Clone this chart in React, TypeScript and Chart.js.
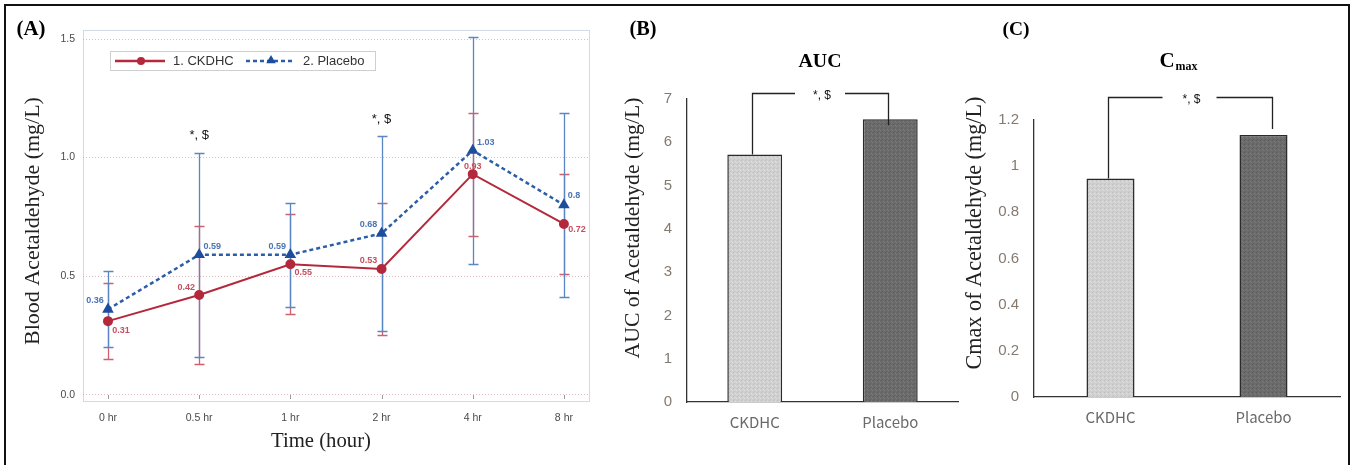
import React, { useEffect, useRef } from "react";
import { Chart, registerables } from "chart.js";

Chart.register(...registerables);

// ---------- DATA ----------
const timeLabels = ["0 hr", "0.5 hr", "1 hr", "2 hr", "4 hr", "8 hr"];
const ckdhcMean = [0.31, 0.42, 0.55, 0.53, 0.93, 0.72];
const ckdhcUpper = [0.47, 0.71, 0.76, 0.81, 1.19, 0.93];
const ckdhcLower = [0.15, 0.13, 0.34, 0.25, 0.67, 0.51];
const placeboMean = [0.36, 0.59, 0.59, 0.68, 1.03, 0.8];
const placeboUpper = [0.52, 1.02, 0.81, 1.09, 1.51, 1.19];
const placeboLower = [0.2, 0.16, 0.37, 0.27, 0.55, 0.41];
const ckdhcValueLabels = ["0.31", "0.42", "0.55", "0.53", "0.93", "0.72"];
const placeboValueLabels = ["0.36", "0.59", "0.59", "0.68", "1.03", "0.8"];
const significantTimeIndex = [1, 3];
const lineYTicks = [0, 0.5, 1.0, 1.5];

const groups = ["CKDHC", "Placebo"];
const aucValues = [5.72, 6.53];
const aucTicks = [0, 1, 2, 3, 4, 5, 6, 7];
const cmaxValues = [0.947, 1.135];
const cmaxTicks = [0, 0.2, 0.4, 0.6, 0.8, 1, 1.2];
const sigText = "*, $";

// ---------- STYLE ----------
const RED = "#b3293b";
const RED_ERR = "#d0606c";
const BLUE = "#2c5ea7";
const BLUE_ERR = "#5a86c3";
const SERIF = "'Liberation Serif', 'DejaVu Serif', serif";
const SANS = "'Liberation Sans', Arial, sans-serif";
const KR = "'Noto Sans CJK KR', 'Noto Sans', sans-serif";

function fitSize(ctx: CanvasRenderingContext2D, text: string, w: number, family: string, weight = "normal") {
  ctx.font = `${weight} 100px ${family}`;
  const m = ctx.measureText(text).width;
  return (100 * w) / m;
}

function drawTriangle(ctx: CanvasRenderingContext2D, x: number, y: number, r: number) {
  ctx.beginPath();
  ctx.moveTo(x, y - r);
  ctx.lineTo(x + r * 0.95, y + r * 0.65);
  ctx.lineTo(x - r * 0.95, y + r * 0.65);
  ctx.closePath();
  ctx.fill();
}

const placeboLabelOffset = [[-13, -9], [13, -8], [-13, -8], [-13, -9], [13, -8], [10, -9]];
const ckdhcLabelOffset = [[13, 9], [-13, -8], [13, 8], [-13, -8], [0, -8], [13, 6]];

const panelAPlugin = {
  id: "panelA",
  beforeDatasetsDraw(chart: any) {
    const { ctx, chartArea: ca, scales } = chart;
    const xs = scales.x;
    const ys = scales.y;
    ctx.save();
    ctx.strokeStyle = "#a7b4cb";
    ctx.lineWidth = 1;
    ctx.setLineDash([1, 1]);
    ctx.strokeRect(ca.left + 0.5, ca.top + 0.5, ca.right - ca.left - 1, ca.bottom - ca.top - 1);
    ctx.setLineDash([]);
    ctx.strokeStyle = "#9a9a9a";
    timeLabels.forEach((_, i) => {
      const px = Math.round(xs.getPixelForValue(i)) + 0.5;
      ctx.beginPath();
      ctx.moveTo(px, ca.bottom - 7);
      ctx.lineTo(px, ca.bottom - 3);
      ctx.stroke();
    });
    const drawErr = (up: number[], lo: number[], color: string) => {
      ctx.strokeStyle = color;
      ctx.lineWidth = 1.3;
      up.forEach((u, i) => {
        const px = Math.round(xs.getPixelForValue(i)) + 0.5;
        const yu = Math.round(ys.getPixelForValue(u)) + 0.5;
        const yl = Math.round(ys.getPixelForValue(lo[i])) + 0.5;
        ctx.beginPath();
        ctx.moveTo(px, yu);
        ctx.lineTo(px, yl);
        ctx.moveTo(px - 5, yu);
        ctx.lineTo(px + 5, yu);
        ctx.moveTo(px - 5, yl);
        ctx.lineTo(px + 5, yl);
        ctx.stroke();
      });
    };
    drawErr(ckdhcUpper, ckdhcLower, RED_ERR);
    drawErr(placeboUpper, placeboLower, BLUE_ERR);
    ctx.restore();
  },
  afterDatasetsDraw(chart: any) {
    const { ctx, scales } = chart;
    const xs = scales.x;
    const ys = scales.y;
    ctx.save();
    ctx.textAlign = "center";
    ctx.textBaseline = "middle";
    ctx.font = `bold 9px ${SANS}`;
    ctx.fillStyle = "#4a74b4";
    placeboMean.forEach((v, i) => {
      const [dx, dy] = placeboLabelOffset[i];
      ctx.fillText(placeboValueLabels[i], xs.getPixelForValue(i) + dx, ys.getPixelForValue(v) + dy);
    });
    ctx.fillStyle = "#c4505e";
    ckdhcMean.forEach((v, i) => {
      const [dx, dy] = ckdhcLabelOffset[i];
      ctx.fillText(ckdhcValueLabels[i], xs.getPixelForValue(i) + dx, ys.getPixelForValue(v) + dy);
    });
    ctx.fillStyle = "#111";
    ctx.font = `13px ${SANS}`;
    significantTimeIndex.forEach((i) => {
      ctx.fillText(sigText, xs.getPixelForValue(i), ys.getPixelForValue(placeboUpper[i]) - 17);
    });
    // legend
    ctx.fillStyle = "#fff";
    ctx.fillRect(110, 51, 265, 19);
    ctx.strokeStyle = "#cfcfcf";
    ctx.lineWidth = 1;
    ctx.strokeRect(110.5, 51.5, 265, 19);
    ctx.strokeStyle = RED;
    ctx.lineWidth = 2.5;
    ctx.beginPath();
    ctx.moveTo(115, 61);
    ctx.lineTo(165, 61);
    ctx.stroke();
    ctx.fillStyle = RED;
    ctx.beginPath();
    ctx.arc(141, 61, 4, 0, Math.PI * 2);
    ctx.fill();
    ctx.strokeStyle = BLUE;
    ctx.setLineDash([4, 3]);
    ctx.beginPath();
    ctx.moveTo(246, 61);
    ctx.lineTo(292, 61);
    ctx.stroke();
    ctx.setLineDash([]);
    ctx.fillStyle = "#1d4d9c";
    drawTriangle(ctx, 271, 60, 5);
    ctx.fillStyle = "#333";
    ctx.font = `13px ${SANS}`;
    ctx.textAlign = "left";
    ctx.fillText(chart.data.datasets[0].label, 173, 61.5);
    ctx.fillText(chart.data.datasets[1].label, 303, 61.5);
    // panel label
    ctx.fillStyle = "#000";
    ctx.textAlign = "center";
    ctx.font = `bold ${fitSize(ctx, "(A)", 29, SERIF, "bold")}px ${SERIF}`;
    ctx.fillText("(A)", 31, 30);
    // axis titles
    const xt = "Time (hour)";
    ctx.font = `${fitSize(ctx, xt, 100, SERIF)}px ${SERIF}`;
    ctx.fillStyle = "#222";
    ctx.fillText(xt, 321, 442);
    const yt = "Blood Acetaldehyde (mg/L)";
    ctx.font = `${fitSize(ctx, yt, 248, SERIF)}px ${SERIF}`;
    ctx.translate(33, 221);
    ctx.rotate(-Math.PI / 2);
    ctx.fillText(yt, 0, 0);
    ctx.restore();
  },
};

function makeLineChart(canvas: HTMLCanvasElement) {
  return new Chart(canvas, {
    type: "line",
    data: {
      datasets: [
        {
          label: "1. CKDHC",
          data: ckdhcMean.map((y, i) => ({ x: i, y })),
          borderColor: RED,
          backgroundColor: RED,
          borderWidth: 2,
          pointStyle: "circle",
          pointRadius: 4,
          pointBackgroundColor: RED,
          pointBorderColor: RED,
          tension: 0,
        },
        {
          label: "2. Placebo",
          data: placeboMean.map((y, i) => ({ x: i, y })),
          borderColor: BLUE,
          backgroundColor: "#1d4d9c",
          borderWidth: 2.5,
          borderDash: [4, 3],
          pointStyle: "triangle",
          pointRadius: 4.2,
          pointBackgroundColor: "#1d4d9c",
          pointBorderColor: "#1d4d9c",
          tension: 0,
        },
      ],
    },
    options: {
      responsive: false,
      animation: false,
      layout: { padding: { top: 30, right: 20, left: 0, bottom: 0 } },
      plugins: { legend: { display: false }, tooltip: { enabled: false } },
      scales: {
        x: {
          type: "linear",
          min: -0.274,
          max: 5.286,
          afterBuildTicks: (s: any) => {
            s.ticks = timeLabels.map((_, i) => ({ value: i }));
          },
          afterFit: (s: any) => {
            s.height = 63;
          },
          ticks: {
            callback: (v: any) => timeLabels[v as number],
            font: { family: SANS, size: 10.5 },
            color: "#4a4a4a",
            padding: 10,
            maxRotation: 0,
          },
          grid: { display: false, drawTicks: false },
          border: { display: false },
        },
        y: {
          min: -0.031,
          max: 1.538,
          afterBuildTicks: (s: any) => {
            s.ticks = lineYTicks.map((v) => ({ value: v }));
          },
          afterFit: (s: any) => {
            s.width = 83;
          },
          ticks: {
            callback: (v: any) => Number(v).toFixed(1),
            font: { family: SANS, size: 10.5 },
            color: "#4a4a4a",
            padding: 8,
          },
          grid: { color: "#dcbcbc", drawTicks: false, lineWidth: 1 },
          border: { display: false, dash: [1, 2] },
        },
      },
    },
    plugins: [panelAPlugin],
  } as any);
}

function makePattern(base: string, dots: string[]) {
  const c = document.createElement("canvas");
  c.width = 4;
  c.height = 4;
  const g = c.getContext("2d")!;
  g.fillStyle = base;
  g.fillRect(0, 0, 4, 4);
  const spots = [[0, 0], [2, 1], [1, 3], [3, 2]];
  spots.forEach(([x, y], k) => {
    g.fillStyle = dots[k % dots.length];
    g.fillRect(x, y, 1, 1);
  });
  const ctx = document.createElement("canvas").getContext("2d")!;
  return ctx.createPattern(c, "repeat")!;
}

type BarCfg = {
  left: number;
  width: number;
  values: number[];
  ticks: number[];
  max: number;
  padTop: number;
  padRight: number;
  yWidth: number;
  xHeight: number;
  barPct: number;
  panel: string;
  panelX: number;
  panelW: number;
  title: string;
  titleSub?: string;
  titleX: number;
  yTitle: string;
  yTitleX: number;
  yTitleCY: number;
  yTitleW: number;
  bracketTop: number;
  legs: number[][];
  gapHalf: number;
  xLabelPad: number;
};

function makeBarChart(canvas: HTMLCanvasElement, cfg: BarCfg) {
  const light = makePattern("#d0d0d0", ["#bdbdbd", "#e0e0e0", "#c6c6c6", "#dadada"]);
  const dark = makePattern("#6b6b6b", ["#5a5a5a", "#7c7c7c", "#626262", "#767676"]);
  const L = cfg.left;
  const plugin = {
    id: "barDecor",
    afterDatasetsDraw(chart: any) {
      const { ctx, scales } = chart;
      const xs = scales.x;
      const ys = scales.y;
      ctx.save();
      ctx.fillStyle = "#000";
      ctx.textAlign = "center";
      ctx.textBaseline = "middle";
      ctx.font = `bold ${fitSize(ctx, cfg.panel, cfg.panelW, SERIF, "bold")}px ${SERIF}`;
      ctx.fillText(cfg.panel, cfg.panelX - L, 30);
      if (cfg.titleSub) {
        ctx.font = `bold 21px ${SERIF}`;
        const w1 = ctx.measureText(cfg.title).width;
        ctx.font = `bold 12px ${SERIF}`;
        const w2 = ctx.measureText(cfg.titleSub).width;
        const x0 = cfg.titleX - L - (w1 + w2) / 2;
        ctx.textAlign = "left";
        ctx.font = `bold 21px ${SERIF}`;
        ctx.fillText(cfg.title, x0, 62);
        ctx.font = `bold 12px ${SERIF}`;
        ctx.fillText(cfg.titleSub, x0 + w1 + 1, 67);
        ctx.textAlign = "center";
      } else {
        ctx.font = `bold ${fitSize(ctx, cfg.title, 43, SERIF, "bold")}px ${SERIF}`;
        ctx.fillText(cfg.title, cfg.titleX - L, 62);
      }
      ctx.save();
      ctx.fillStyle = "#222";
      ctx.font = `${fitSize(ctx, cfg.yTitle, cfg.yTitleW, SERIF)}px ${SERIF}`;
      ctx.translate(cfg.yTitleX - L, cfg.yTitleCY);
      ctx.rotate(-Math.PI / 2);
      ctx.fillText(cfg.yTitle, 0, 0);
      ctx.restore();
      // bracket
      const x0 = xs.getPixelForValue(0) + cfg.legs[0][0];
      const x1 = xs.getPixelForValue(1) + cfg.legs[1][0];
      const y0 = ys.getPixelForValue(cfg.values[0]) + cfg.legs[0][1];
      const y1 = ys.getPixelForValue(cfg.values[1]) + cfg.legs[1][1];
      const top = cfg.bracketTop + 0.5;
      const mid = (x0 + x1) / 2;
      ctx.strokeStyle = "#222";
      ctx.lineWidth = 1.3;
      ctx.beginPath();
      ctx.moveTo(Math.round(x0) + 0.5, y0);
      ctx.lineTo(Math.round(x0) + 0.5, top);
      ctx.lineTo(mid - cfg.gapHalf, top);
      ctx.moveTo(mid + cfg.gapHalf, top);
      ctx.lineTo(Math.round(x1) + 0.5, top);
      ctx.lineTo(Math.round(x1) + 0.5, y1);
      ctx.stroke();
      ctx.fillStyle = "#111";
      ctx.font = `12px ${SANS}`;
      ctx.fillText(sigText, mid + 2, top + 2);
      ctx.restore();
    },
  };
  return new Chart(canvas, {
    type: "bar",
    data: {
      labels: groups,
      datasets: [
        {
          data: cfg.values,
          backgroundColor: [light, dark],
          borderColor: "#2a2a2a",
          borderWidth: 1.5,
          barPercentage: cfg.barPct,
          categoryPercentage: 1,
        },
      ],
    },
    options: {
      responsive: false,
      animation: false,
      layout: { padding: { top: cfg.padTop, right: cfg.padRight, left: 0, bottom: 0 } },
      plugins: { legend: { display: false }, tooltip: { enabled: false } },
      scales: {
        x: {
          afterFit: (s: any) => {
            s.height = cfg.xHeight;
          },
          ticks: { font: { family: KR, size: 15 }, color: "#6a6a6a", padding: cfg.xLabelPad },
          grid: { display: false, drawTicks: false },
          border: { display: true, color: "#333", width: 1.3 },
        },
        y: {
          min: 0,
          max: cfg.max,
          afterBuildTicks: (s: any) => {
            s.ticks = cfg.ticks.map((v) => ({ value: v }));
          },
          afterFit: (s: any) => {
            s.width = cfg.yWidth;
          },
          ticks: { font: { family: SANS, size: 15 }, color: "#857a70", padding: 15, callback: (v: any) => String(v) },
          grid: { display: false, drawTicks: false },
          border: { display: true, color: "#333", width: 1.3 },
        },
      },
    },
    plugins: [plugin],
  } as any);
}

const cfgB: BarCfg = {
  left: 605,
  width: 355,
  values: aucValues,
  ticks: aucTicks,
  max: 7,
  padTop: 99,
  padRight: 2,
  yWidth: 82,
  xHeight: 63,
  barPct: 0.405,
  panel: "(B)",
  panelX: 643,
  panelW: 27,
  title: "AUC",
  titleX: 820,
  yTitle: "AUC of Acetaldehyde (mg/L)",
  yTitleX: 633,
  yTitleCY: 228,
  yTitleW: 261,
  bracketTop: 93,
  legs: [[-3, 0], [-2, 6]],
  gapHalf: 25,
  xLabelPad: 11,
};

const cfgC: BarCfg = {
  left: 960,
  width: 393,
  values: cmaxValues,
  ticks: cmaxTicks,
  max: 1.2,
  padTop: 120,
  padRight: 13,
  yWidth: 74,
  xHeight: 68,
  barPct: 0.314,
  panel: "(C)",
  panelX: 1016,
  panelW: 27,
  title: "C",
  titleSub: "max",
  titleX: 1178,
  yTitle: "Cmax of Acetaldehyde (mg/L)",
  yTitleX: 975,
  yTitleCY: 233,
  yTitleW: 273,
  bracketTop: 97,
  legs: [[-3, 0], [8, -6]],
  gapHalf: 27,
  xLabelPad: 11,
};

export default function App() {
  const refA = useRef<HTMLCanvasElement>(null);
  const refB = useRef<HTMLCanvasElement>(null);
  const refC = useRef<HTMLCanvasElement>(null);

  useEffect(() => {
    document.body.style.margin = "0";
    const charts = [
      makeLineChart(refA.current!),
      makeBarChart(refB.current!, cfgB),
      makeBarChart(refC.current!, cfgC),
    ];
    return () => charts.forEach((c) => c.destroy());
  }, []);

  const abs = (left: number, width: number): React.CSSProperties => ({
    position: "absolute",
    left,
    top: 0,
    width,
    height: 465,
    display: "block",
  });

  return (
    <div style={{ position: "relative", width: 1353, height: 465, overflow: "hidden", background: "#fff" }}>
      <canvas ref={refA} width={610} height={465} style={abs(0, 610)} />
      <canvas ref={refB} width={cfgB.width} height={465} style={abs(cfgB.left, cfgB.width)} />
      <canvas ref={refC} width={cfgC.width} height={465} style={abs(cfgC.left, cfgC.width)} />
      <div
        style={{
          position: "absolute",
          left: 4,
          top: 4,
          width: 1342,
          height: 470,
          border: "2px solid #111",
          pointerEvents: "none",
        }}
      />
    </div>
  );
}
